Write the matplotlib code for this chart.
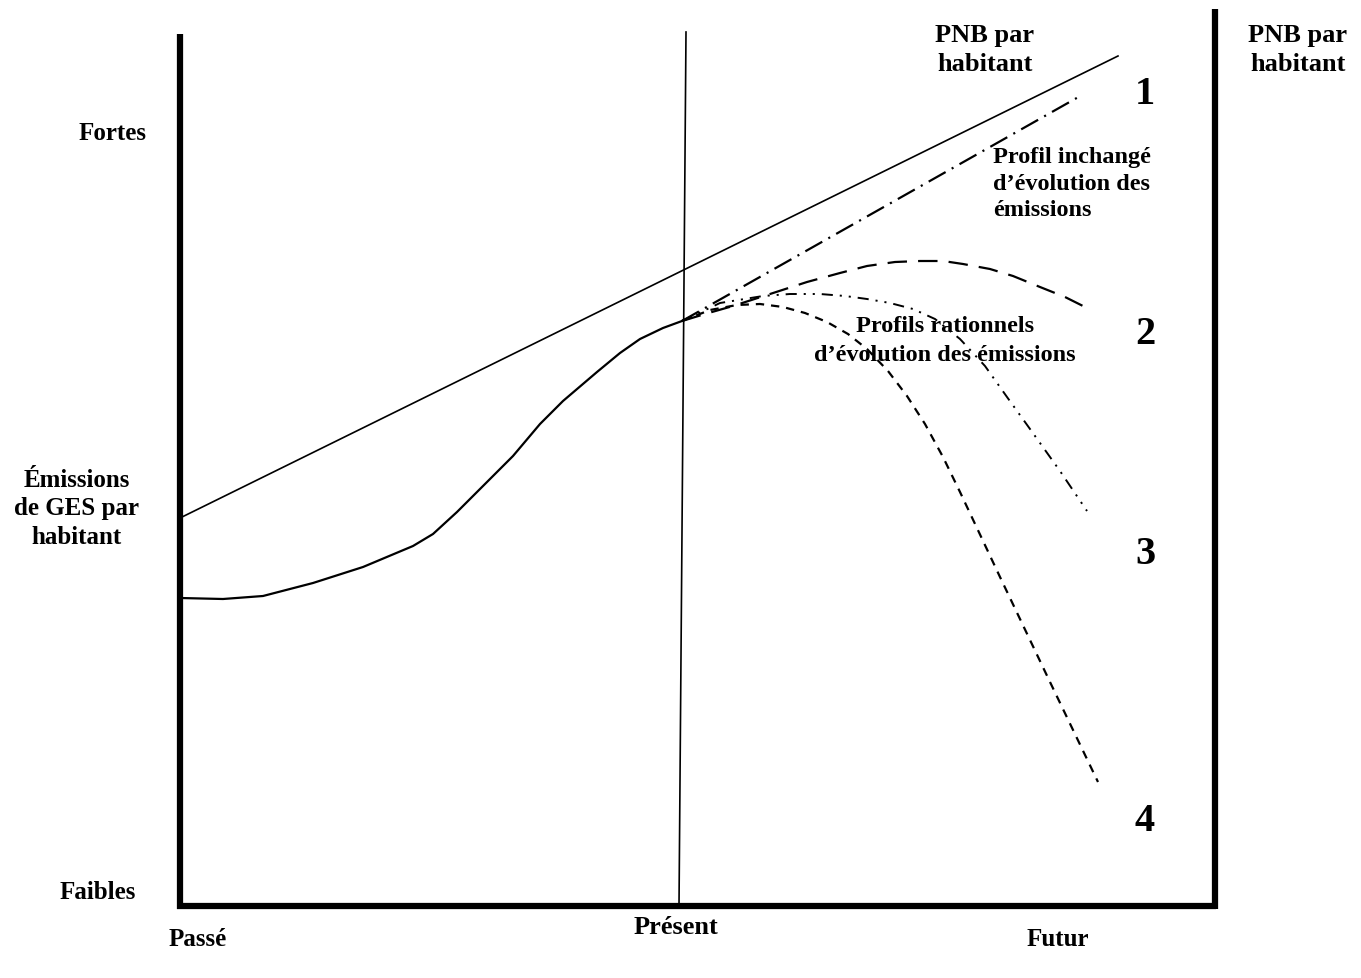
import matplotlib
matplotlib.use("Agg")
import matplotlib.pyplot as plt

plt.rcParams["font.family"] = ["Liberation Serif", "DejaVu Serif"]
plt.rcParams["font.weight"] = "bold"
plt.rcParams["lines.scale_dashes"] = False

# schematic positions (x = time, y = level, screen-like units)
pnb_x = [180, 1118]
pnb_y = [519, 57]

hist_x = [180, 223, 263, 313, 363, 413, 433, 457, 480, 497, 513, 540, 563, 597, 620, 640, 663, 682]
hist_y = [599, 600, 597, 584, 568, 547, 535, 513, 490, 473, 457, 425, 402, 373, 354, 340, 329, 322]

p1_x = [682, 1082]
p1_y = [322, 96]

p2_x = [682, 705, 733, 770, 807, 840, 867, 895, 920, 943, 963, 990, 1013, 1040, 1065, 1085]
p2_y = [322, 315, 307, 295, 283, 274, 267, 263, 262, 262, 265, 270, 277, 288, 298, 308]

p3_x = [682, 720, 763, 790, 820, 845, 867, 890, 913, 935, 960, 985, 1007, 1030, 1060, 1087]
p3_y = [322, 304, 297, 295, 295, 297, 300, 304, 310, 320, 340, 367, 398, 430, 472, 512]

p4_x = [682, 710, 737, 760, 783, 805, 827, 848, 867, 888, 907, 925, 943, 960, 1000, 1050, 1098]
p4_y = [322, 311, 306, 305, 308, 314, 323, 335, 350, 372, 397, 425, 458, 493, 578, 683, 783]

present_x = [686, 679]
present_y = [33, 907]

scenario_labels = ["1", "2", "3", "4"]
scenario_y = [95, 335, 555, 822]

fig = plt.figure(figsize=(13.61, 9.79), dpi=100)
ax = fig.add_axes([0, 0, 1, 1])
ax.set_xlim(0, 1361)
ax.set_ylim(979, 0)
ax.axis("off")

# frame: left, bottom and right thick lines
ax.plot([180, 180], [35, 910], color="black", lw=4.5, solid_capstyle="butt")
ax.plot([177, 1216], [907, 907], color="black", lw=4.5, solid_capstyle="butt")
ax.plot([1215, 1215], [10, 910], color="black", lw=4.5, solid_capstyle="butt")
ax.plot(present_x, present_y, color="black", lw=1.2)

ax.plot(pnb_x, pnb_y, color="black", lw=1.2)
ax.plot(hist_x, hist_y, color="black", lw=1.6, solid_joinstyle="round")
ax.plot(p1_x, p1_y, color="black", lw=1.6, linestyle=(0, (14, 5, 1.5, 5)))
ax.plot(p2_x, p2_y, color="black", lw=1.6, linestyle=(0, (14, 8)))
ax.plot(p3_x, p3_y, color="black", lw=1.4, linestyle=(0, (8, 5, 1.5, 5, 1.5, 5)))
ax.plot(p4_x, p4_y, color="black", lw=1.6, linestyle=(0, (6, 5)))

fs = 18
ax.text(985, 50, "PNB par\nhabitant", ha="center", va="center", fontsize=19, linespacing=1.38)
ax.text(1298, 50, "PNB par\nhabitant", ha="center", va="center", fontsize=19, linespacing=1.38)
ax.text(993, 184, "Profil inchangé\nd\u2019évolution des\némissions", ha="left", va="center",
        fontsize=17.5, linespacing=1.32)
ax.text(945, 341, "Profils rationnels\nd\u2019évolution des émissions", ha="center", va="center",
        fontsize=17.5, linespacing=1.45)

for lab, yy in zip(scenario_labels, scenario_y):
    ax.text(1145, yy, lab, ha="center", va="center", fontsize=29)

ax.text(113, 133, "Fortes", ha="center", va="center", fontsize=fs)
ax.text(77, 509, "Émissions\nde GES par\nhabitant", ha="center", va="center", fontsize=fs, linespacing=1.31)
ax.text(98, 893, "Faibles", ha="center", va="center", fontsize=fs)
ax.text(198, 940, "Passé", ha="center", va="center", fontsize=fs)
ax.text(676, 928, "Présent", ha="center", va="center", fontsize=19)
ax.text(1058, 940, "Futur", ha="center", va="center", fontsize=fs)

fig.savefig("out.png", dpi=100, facecolor="white")
